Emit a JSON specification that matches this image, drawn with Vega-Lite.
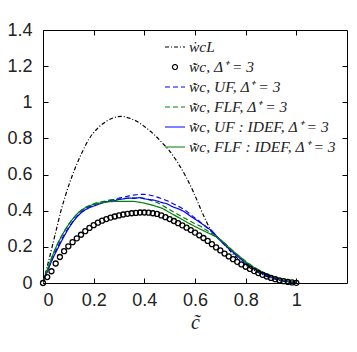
{
  "$schema": "https://vega.github.io/schema/vega-lite/v6.json",
  "width": 304,
  "height": 253,
  "autosize": "none",
  "padding": {"left": 43, "top": 30, "right": 10, "bottom": 69},
  "background": "white",
  "config": {
    "view": {"stroke": "black", "strokeWidth": 1},
    "axis": {"grid": false, "domain": false, "tickColor": "black", "tickSize": -5, "labelFont": "Liberation Sans", "labelFontSize": 18, "labelColor": "#222", "format": "~g"}
  },
  "datasets": {
    "lines": [
      {"s": "a", "x": 0, "y": 0}, {"s": "a", "x": 0.01, "y": 0.055}, {"s": "a", "x": 0.02, "y": 0.11}, {"s": "a", "x": 0.036, "y": 0.2}, {"s": "a", "x": 0.05, "y": 0.28}, {"s": "a", "x": 0.071, "y": 0.4}, {"s": "a", "x": 0.09, "y": 0.49}, {"s": "a", "x": 0.117, "y": 0.6}, {"s": "a", "x": 0.15, "y": 0.71}, {"s": "a", "x": 0.183, "y": 0.8}, {"s": "a", "x": 0.215, "y": 0.855}, {"s": "a", "x": 0.25, "y": 0.895}, {"s": "a", "x": 0.28, "y": 0.915}, {"s": "a", "x": 0.31, "y": 0.922}, {"s": "a", "x": 0.341, "y": 0.912}, {"s": "a", "x": 0.37, "y": 0.895}, {"s": "a", "x": 0.4, "y": 0.866}, {"s": "a", "x": 0.436, "y": 0.825}, {"s": "a", "x": 0.472, "y": 0.773}, {"s": "a", "x": 0.5, "y": 0.73}, {"s": "a", "x": 0.53, "y": 0.67}, {"s": "a", "x": 0.564, "y": 0.588}, {"s": "a", "x": 0.595, "y": 0.5}, {"s": "a", "x": 0.624, "y": 0.404}, {"s": "a", "x": 0.645, "y": 0.34}, {"s": "a", "x": 0.66, "y": 0.3}, {"s": "a", "x": 0.68, "y": 0.265}, {"s": "a", "x": 0.7, "y": 0.238}, {"s": "a", "x": 0.75, "y": 0.16}, {"s": "a", "x": 0.8, "y": 0.1}, {"s": "a", "x": 0.85, "y": 0.058}, {"s": "a", "x": 0.9, "y": 0.028}, {"s": "a", "x": 0.95, "y": 0.01}, {"s": "a", "x": 1.0, "y": 0.002},

      {"s": "c", "x": 0, "y": 0}, {"s": "c", "x": 0.02, "y": 0.075}, {"s": "c", "x": 0.058, "y": 0.2}, {"s": "c", "x": 0.098, "y": 0.3}, {"s": "c", "x": 0.157, "y": 0.4}, {"s": "c", "x": 0.209, "y": 0.436}, {"s": "c", "x": 0.25, "y": 0.452}, {"s": "c", "x": 0.28, "y": 0.462}, {"s": "c", "x": 0.3, "y": 0.47}, {"s": "c", "x": 0.32, "y": 0.475}, {"s": "c", "x": 0.34, "y": 0.482}, {"s": "c", "x": 0.36, "y": 0.487}, {"s": "c", "x": 0.38, "y": 0.49}, {"s": "c", "x": 0.4, "y": 0.49}, {"s": "c", "x": 0.42, "y": 0.487}, {"s": "c", "x": 0.44, "y": 0.48}, {"s": "c", "x": 0.47, "y": 0.466}, {"s": "c", "x": 0.49, "y": 0.455}, {"s": "c", "x": 0.512, "y": 0.44}, {"s": "c", "x": 0.54, "y": 0.42}, {"s": "c", "x": 0.564, "y": 0.4}, {"s": "c", "x": 0.59, "y": 0.37}, {"s": "c", "x": 0.62, "y": 0.338}, {"s": "c", "x": 0.64, "y": 0.315}, {"s": "c", "x": 0.66, "y": 0.29}, {"s": "c", "x": 0.7, "y": 0.236}, {"s": "c", "x": 0.775, "y": 0.14}, {"s": "c", "x": 0.854, "y": 0.063}, {"s": "c", "x": 0.933, "y": 0.018}, {"s": "c", "x": 1.0, "y": 0.003},

      {"s": "d", "x": 0, "y": 0}, {"s": "d", "x": 0.02, "y": 0.085}, {"s": "d", "x": 0.049, "y": 0.19}, {"s": "d", "x": 0.09, "y": 0.3}, {"s": "d", "x": 0.137, "y": 0.385}, {"s": "d", "x": 0.17, "y": 0.42}, {"s": "d", "x": 0.2, "y": 0.438}, {"s": "d", "x": 0.25, "y": 0.455}, {"s": "d", "x": 0.3, "y": 0.465}, {"s": "d", "x": 0.34, "y": 0.47}, {"s": "d", "x": 0.38, "y": 0.472}, {"s": "d", "x": 0.4, "y": 0.468}, {"s": "d", "x": 0.42, "y": 0.46}, {"s": "d", "x": 0.445, "y": 0.448}, {"s": "d", "x": 0.47, "y": 0.43}, {"s": "d", "x": 0.5, "y": 0.405}, {"s": "d", "x": 0.52, "y": 0.39}, {"s": "d", "x": 0.545, "y": 0.37}, {"s": "d", "x": 0.564, "y": 0.355}, {"s": "d", "x": 0.59, "y": 0.335}, {"s": "d", "x": 0.62, "y": 0.315}, {"s": "d", "x": 0.64, "y": 0.298}, {"s": "d", "x": 0.66, "y": 0.28}, {"s": "d", "x": 0.7, "y": 0.24}, {"s": "d", "x": 0.775, "y": 0.147}, {"s": "d", "x": 0.854, "y": 0.07}, {"s": "d", "x": 0.933, "y": 0.024}, {"s": "d", "x": 1.0, "y": 0.005},

      {"s": "e", "x": 0, "y": 0}, {"s": "e", "x": 0.01, "y": 0.04}, {"s": "e", "x": 0.02, "y": 0.075}, {"s": "e", "x": 0.035, "y": 0.125}, {"s": "e", "x": 0.058, "y": 0.19}, {"s": "e", "x": 0.08, "y": 0.25}, {"s": "e", "x": 0.098, "y": 0.295}, {"s": "e", "x": 0.125, "y": 0.35}, {"s": "e", "x": 0.157, "y": 0.395}, {"s": "e", "x": 0.185, "y": 0.418}, {"s": "e", "x": 0.209, "y": 0.43}, {"s": "e", "x": 0.235, "y": 0.443}, {"s": "e", "x": 0.26, "y": 0.452}, {"s": "e", "x": 0.28, "y": 0.455}, {"s": "e", "x": 0.3, "y": 0.462}, {"s": "e", "x": 0.32, "y": 0.466}, {"s": "e", "x": 0.34, "y": 0.47}, {"s": "e", "x": 0.36, "y": 0.468}, {"s": "e", "x": 0.38, "y": 0.472}, {"s": "e", "x": 0.4, "y": 0.466}, {"s": "e", "x": 0.42, "y": 0.462}, {"s": "e", "x": 0.44, "y": 0.458}, {"s": "e", "x": 0.47, "y": 0.445}, {"s": "e", "x": 0.49, "y": 0.438}, {"s": "e", "x": 0.512, "y": 0.422}, {"s": "e", "x": 0.535, "y": 0.41}, {"s": "e", "x": 0.56, "y": 0.392}, {"s": "e", "x": 0.58, "y": 0.372}, {"s": "e", "x": 0.604, "y": 0.35}, {"s": "e", "x": 0.63, "y": 0.325}, {"s": "e", "x": 0.65, "y": 0.305}, {"s": "e", "x": 0.67, "y": 0.284}, {"s": "e", "x": 0.696, "y": 0.24}, {"s": "e", "x": 0.73, "y": 0.195}, {"s": "e", "x": 0.775, "y": 0.14}, {"s": "e", "x": 0.81, "y": 0.1}, {"s": "e", "x": 0.854, "y": 0.062}, {"s": "e", "x": 0.9, "y": 0.033}, {"s": "e", "x": 0.933, "y": 0.018}, {"s": "e", "x": 0.96, "y": 0.009}, {"s": "e", "x": 1.0, "y": 0.003},

      {"s": "f", "x": 0, "y": 0}, {"s": "f", "x": 0.01, "y": 0.045}, {"s": "f", "x": 0.02, "y": 0.085}, {"s": "f", "x": 0.049, "y": 0.19}, {"s": "f", "x": 0.07, "y": 0.25}, {"s": "f", "x": 0.09, "y": 0.3}, {"s": "f", "x": 0.115, "y": 0.35}, {"s": "f", "x": 0.137, "y": 0.385}, {"s": "f", "x": 0.165, "y": 0.415}, {"s": "f", "x": 0.2, "y": 0.435}, {"s": "f", "x": 0.245, "y": 0.447}, {"s": "f", "x": 0.28, "y": 0.451}, {"s": "f", "x": 0.32, "y": 0.452}, {"s": "f", "x": 0.35, "y": 0.452}, {"s": "f", "x": 0.376, "y": 0.448}, {"s": "f", "x": 0.4, "y": 0.442}, {"s": "f", "x": 0.42, "y": 0.435}, {"s": "f", "x": 0.445, "y": 0.425}, {"s": "f", "x": 0.472, "y": 0.412}, {"s": "f", "x": 0.5, "y": 0.39}, {"s": "f", "x": 0.538, "y": 0.36}, {"s": "f", "x": 0.57, "y": 0.335}, {"s": "f", "x": 0.604, "y": 0.31}, {"s": "f", "x": 0.64, "y": 0.285}, {"s": "f", "x": 0.67, "y": 0.265}, {"s": "f", "x": 0.7, "y": 0.24}, {"s": "f", "x": 0.735, "y": 0.195}, {"s": "f", "x": 0.775, "y": 0.148}, {"s": "f", "x": 0.81, "y": 0.108}, {"s": "f", "x": 0.854, "y": 0.07}, {"s": "f", "x": 0.9, "y": 0.04}, {"s": "f", "x": 0.933, "y": 0.024}, {"s": "f", "x": 0.96, "y": 0.013}, {"s": "f", "x": 1.0, "y": 0.005}
    ],
    "circles": [
      {"s": "b", "x": 0, "y": 0}, {"s": "b", "x": 0.0167, "y": 0.033}, {"s": "b", "x": 0.0333, "y": 0.065}, {"s": "b", "x": 0.05, "y": 0.108}, {"s": "b", "x": 0.0667, "y": 0.144}, {"s": "b", "x": 0.0833, "y": 0.176}, {"s": "b", "x": 0.1, "y": 0.203}, {"s": "b", "x": 0.1167, "y": 0.226}, {"s": "b", "x": 0.1333, "y": 0.247}, {"s": "b", "x": 0.15, "y": 0.267}, {"s": "b", "x": 0.1667, "y": 0.287}, {"s": "b", "x": 0.1833, "y": 0.305}, {"s": "b", "x": 0.2, "y": 0.32}, {"s": "b", "x": 0.2167, "y": 0.334}, {"s": "b", "x": 0.2333, "y": 0.345}, {"s": "b", "x": 0.25, "y": 0.354}, {"s": "b", "x": 0.2667, "y": 0.362}, {"s": "b", "x": 0.2833, "y": 0.368}, {"s": "b", "x": 0.3, "y": 0.374}, {"s": "b", "x": 0.3167, "y": 0.379}, {"s": "b", "x": 0.3333, "y": 0.383}, {"s": "b", "x": 0.35, "y": 0.386}, {"s": "b", "x": 0.3667, "y": 0.388}, {"s": "b", "x": 0.3833, "y": 0.39}, {"s": "b", "x": 0.4, "y": 0.39}, {"s": "b", "x": 0.4167, "y": 0.389}, {"s": "b", "x": 0.4333, "y": 0.386}, {"s": "b", "x": 0.45, "y": 0.382}, {"s": "b", "x": 0.4667, "y": 0.374}, {"s": "b", "x": 0.4833, "y": 0.364}, {"s": "b", "x": 0.5, "y": 0.354}, {"s": "b", "x": 0.5167, "y": 0.343}, {"s": "b", "x": 0.5333, "y": 0.331}, {"s": "b", "x": 0.55, "y": 0.319}, {"s": "b", "x": 0.5667, "y": 0.306}, {"s": "b", "x": 0.5833, "y": 0.293}, {"s": "b", "x": 0.6, "y": 0.279}, {"s": "b", "x": 0.6167, "y": 0.264}, {"s": "b", "x": 0.6333, "y": 0.249}, {"s": "b", "x": 0.65, "y": 0.233}, {"s": "b", "x": 0.6667, "y": 0.215}, {"s": "b", "x": 0.6833, "y": 0.197}, {"s": "b", "x": 0.7, "y": 0.18}, {"s": "b", "x": 0.7167, "y": 0.163}, {"s": "b", "x": 0.7333, "y": 0.147}, {"s": "b", "x": 0.75, "y": 0.132}, {"s": "b", "x": 0.7667, "y": 0.117}, {"s": "b", "x": 0.7833, "y": 0.103}, {"s": "b", "x": 0.8, "y": 0.09}, {"s": "b", "x": 0.8167, "y": 0.078}, {"s": "b", "x": 0.8333, "y": 0.066}, {"s": "b", "x": 0.85, "y": 0.055}, {"s": "b", "x": 0.8667, "y": 0.045}, {"s": "b", "x": 0.8833, "y": 0.036}, {"s": "b", "x": 0.9, "y": 0.028}, {"s": "b", "x": 0.9167, "y": 0.021}, {"s": "b", "x": 0.9333, "y": 0.015}, {"s": "b", "x": 0.95, "y": 0.01}, {"s": "b", "x": 0.9667, "y": 0.006}, {"s": "b", "x": 0.9833, "y": 0.003}, {"s": "b", "x": 1.0, "y": 0.001}
    ]
  },
  "layer": [
    {
      "data": {"name": "lines"},
      "mark": {"type": "line", "strokeWidth": 1.2, "interpolate": "monotone", "clip": true},
      "encoding": {
        "x": {"field": "x", "type": "quantitative", "scale": {"domain": [0, 1.2], "nice": false},
          "axis": {"orient": "bottom", "values": [0, 0.2, 0.4, 0.6, 0.8, 1], "labelPadding": 13, "title": "c\u0303", "titleFont": "Liberation Serif", "titleFontStyle": "italic", "titleFontWeight": "normal", "titleFontSize": 20, "titleColor": "#222", "titlePadding": 3}},
        "y": {"field": "y", "type": "quantitative", "scale": {"domain": [0, 1.4], "nice": false},
          "axis": {"orient": "left", "values": [0, 0.2, 0.4, 0.6, 0.8, 1, 1.2, 1.4], "labelPadding": 16, "title": null}},
        "color": {"field": "s", "type": "nominal",
          "scale": {"domain": ["a", "b", "c", "d", "e", "f"], "range": ["black", "black", "#0000ff", "#008000", "#0000ff", "#008000"]},
          "legend": {"title": null, "orient": "none", "legendX": 121, "legendY": 6, "padding": 0, "symbolSize": 400, "symbolStrokeWidth": 1.2, "labelFont": "Liberation Serif", "labelFontStyle": "italic", "labelFontSize": 15.5, "labelColor": "#222", "rowPadding": -4, "labelOffset": 3,
            "labelExpr": "['\u1e87cL', 'w\u0303\u0307c, \u0394\u207a = 3', 'w\u0303\u0307c, UF, \u0394\u207a = 3', 'w\u0303\u0307c, FLF, \u0394\u207a = 3', 'w\u0303\u0307c, UF : IDEF, \u0394\u207a = 3', 'w\u0303\u0307c, FLF : IDEF, \u0394\u207a = 3'][indexof(['a','b','c','d','e','f'], datum.value)]"}},
        "strokeDash": {"field": "s", "type": "nominal",
          "scale": {"domain": ["a", "b", "c", "d", "e", "f"], "range": [[4, 2, 1, 2], [1, 0], [5, 3], [5, 3], [1, 0], [1, 0]]}}
      }
    },
    {
      "data": {"name": "circles"},
      "mark": {"type": "point", "filled": false, "strokeWidth": 1.3, "size": 400, "opacity": 1},
      "encoding": {
        "x": {"field": "x", "type": "quantitative", "axis": {"orient": "top", "values": [0.2, 0.4, 0.6, 0.8, 1], "labels": false, "title": null}},
        "y": {"field": "y", "type": "quantitative", "axis": {"orient": "right", "values": [0.2, 0.4, 0.6, 0.8, 1, 1.2], "labels": false, "title": null}},
        "color": {"field": "s", "type": "nominal"},
        "shape": {"field": "s", "type": "nominal",
          "scale": {"domain": ["a", "b", "c", "d", "e", "f"], "range": ["M-1,0H1", "M-0.25,0A0.25,0.25 0 1,0 0.25,0A0.25,0.25 0 1,0 -0.25,0Z", "M-1,0H1", "M-1,0H1", "M-1,0H1", "M-1,0H1"]}}
      }
    }
  ],
  "resolve": {"axis": {"x": "independent", "y": "independent"}}
}
